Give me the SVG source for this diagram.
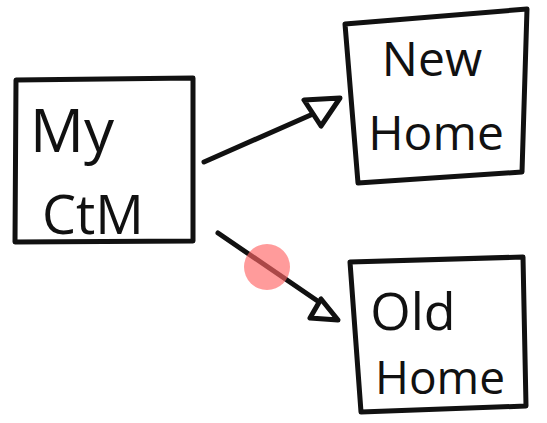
<svg xmlns="http://www.w3.org/2000/svg" width="547" height="423" viewBox="0 0 547 423">
<style>
.box{fill:#fff;stroke:#111;stroke-width:5;stroke-linejoin:round;stroke-linecap:round}
.edge{fill:none;stroke:#111;stroke-width:5;stroke-linecap:round}
.head{fill:#fff;stroke:#111;stroke-width:5;stroke-linejoin:round}
.lbl{font-family:"Open Sans","DejaVu Sans",sans-serif;fill:#111;text-anchor:middle}
</style>
<rect width="547" height="423" fill="#fff"/>
<g id="node-myctm">
<path class="box" d="M16,80 L193,78 L193,241 L15,242 Z"/>
<text class="lbl" x="72" y="152" font-size="60">My</text>
<text class="lbl" x="93" y="234" font-size="54">CtM</text>
</g>
<g id="node-newhome">
<path class="box" d="M345,24 L527,9 L522,172 L358,183 Z"/>
<text class="lbl" x="432" y="76" font-size="48">New</text>
<text class="lbl" x="436" y="150" font-size="48">Home</text>
</g>
<g id="node-oldhome">
<path class="box" d="M350,262 L523,257 L526,406 L361,412 Z"/>
<text class="lbl" x="413" y="330" font-size="52">Old</text>
<text class="lbl" x="440" y="394" font-size="46">Home</text>
</g>
<g id="connectors">
<path class="edge" d="M204,162 L322,110"/>
<path class="head" d="M304,100 L340,98 L321,126 Z"/>
<path class="edge" d="M218,233 L322,304"/>
<path class="head" d="M321,299 L310,318 L338,320 Z"/>
</g>
<circle cx="267" cy="267" r="23" fill="#ff6666" fill-opacity="0.65"/>
</svg>
